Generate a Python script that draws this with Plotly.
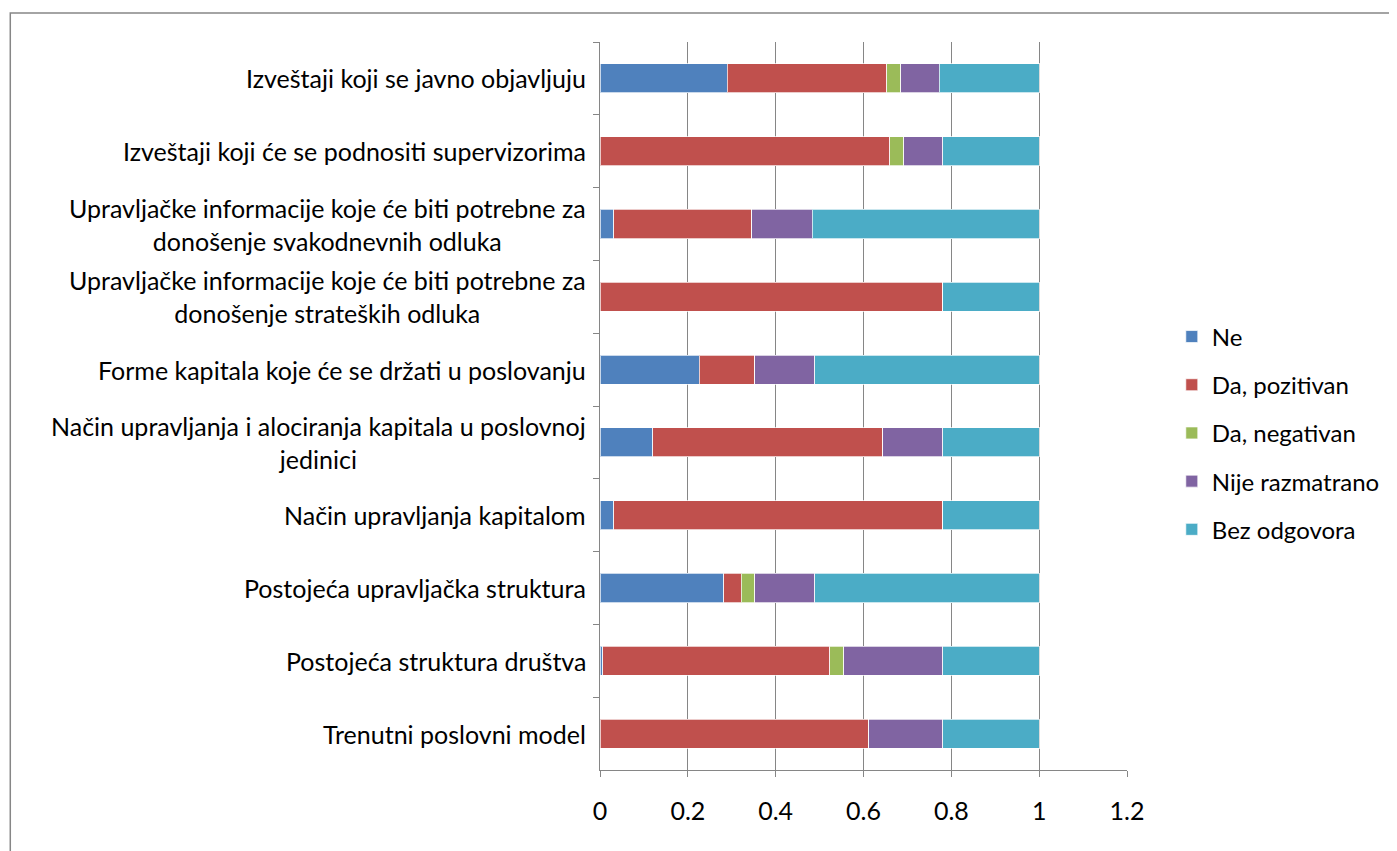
import plotly.graph_objects as go

categories = [
    "Izveštaji koji se javno objavljuju",
    "Izveštaji koji će se podnositi supervizorima",
    "Upravljačke informacije koje će biti potrebne za donošenje svakodnevnih odluka",
    "Upravljačke informacije koje će biti potrebne za donošenje strateških odluka",
    "Forme kapitala koje će se držati u poslovanju",
    "Način upravljanja i alociranja kapitala u poslovnoj jedinici",
    "Način upravljanja kapitalom",
    "Postojeća upravljačka struktura",
    "Postojeća struktura društva",
    "Trenutni poslovni model",
]
category_labels = [
    "Izveštaji koji se javno objavljuju",
    "Izveštaji koji će se podnositi supervizorima",
    "Upravljačke informacije koje će biti potrebne za<br>donošenje svakodnevnih odluka",
    "Upravljačke informacije koje će biti potrebne za<br>donošenje strateških odluka",
    "Forme kapitala koje će se držati u poslovanju",
    "Način upravljanja i alociranja kapitala u poslovnoj<br>jedinici",
    "Način upravljanja kapitalom",
    "Postojeća upravljačka struktura",
    "Postojeća struktura društva",
    "Trenutni poslovni model",
]

ne = [0.29, 0, 0.031, 0, 0.226, 0.12, 0.031, 0.282, 0.006, 0]
da_pozitivan = [0.363, 0.66, 0.315, 0.78, 0.126, 0.524, 0.749, 0.04, 0.517, 0.612]
da_negativan = [0.032, 0.032, 0, 0, 0, 0, 0, 0.03, 0.032, 0]
nije_razmatrano = [0.088, 0.088, 0.137, 0, 0.137, 0.136, 0, 0.137, 0.225, 0.168]
bez_odgovora = [0.227, 0.22, 0.517, 0.22, 0.511, 0.22, 0.22, 0.511, 0.22, 0.22]

series_names = ["Ne", "Da, pozitivan", "Da, negativan", "Nije razmatrano", "Bez odgovora"]
series_values = [ne, da_pozitivan, da_negativan, nije_razmatrano, bez_odgovora]
series_colors = ["#4F81BD", "#C0504D", "#9BBB59", "#8064A2", "#4BACC6"]

x_ticks = [0, 0.2, 0.4, 0.6, 0.8, 1, 1.2]
x_tick_labels = ["0", "0.2", "0.4", "0.6", "0.8", "1", "1.2"]

FONT = "Lato"
FS = 25
fig = go.Figure()
for name, vals, col in zip(series_names, series_values, series_colors):
    fig.add_trace(go.Bar(
        y=categories, x=vals, name=name, orientation="h",
        marker=dict(color=col, line=dict(color="rgba(255,255,255,0.7)", width=1)),
        legendgroup=name,
    ))

annotations = []
for cat, lab in zip(categories, category_labels):
    annotations.append(dict(
        xref="paper", yref="y", x=0, y=cat, text=lab, showarrow=False,
        xanchor="right", yanchor="middle", align="center", xshift=-12,
        font=dict(family=FONT, size=FS, color="black"),
    ))

fig.update_layout(
    barmode="stack",
    bargap=0.6,
    width=1389, height=843,
    margin=dict(l=592, r=270, t=34, b=81),
    paper_bgcolor="white", plot_bgcolor="white",
    font=dict(family=FONT, size=FS, color="black"),
    annotations=annotations,
    xaxis=dict(
        range=[0, 1.2], tickvals=x_ticks, ticktext=x_tick_labels,
        showgrid=True, gridcolor="#868686", gridwidth=1,
        showline=True, linecolor="#868686", linewidth=1,
        ticks="outside", ticklen=6, tickcolor="#868686",
        zeroline=False, tickfont=dict(family=FONT, size=FS, color="black"),
        ticklabelstandoff=13,
    ),
    yaxis=dict(
        categoryorder="array", categoryarray=categories, autorange="reversed",
        showticklabels=False, showgrid=False,
        showline=True, linecolor="#868686", linewidth=1,
        ticks="outside", ticklen=6, tickcolor="#868686", tickson="boundaries",
        zeroline=False,
    ),
    legend=dict(
        x=1.085, xanchor="left", y=0.463, yanchor="middle",
        traceorder="grouped", tracegroupgap=14,
        font=dict(family=FONT, size=24, color="black"),
        bgcolor="rgba(0,0,0,0)",
    ),
    shapes=[dict(
        type="rect", xref="paper", yref="paper",
        x0=-1.119, x1=1.53, y0=-0.12, y1=1.0398,
        line=dict(color="#868686", width=1.5), fillcolor="rgba(0,0,0,0)", layer="below",
    )],
)

fig.write_html("out.html")
